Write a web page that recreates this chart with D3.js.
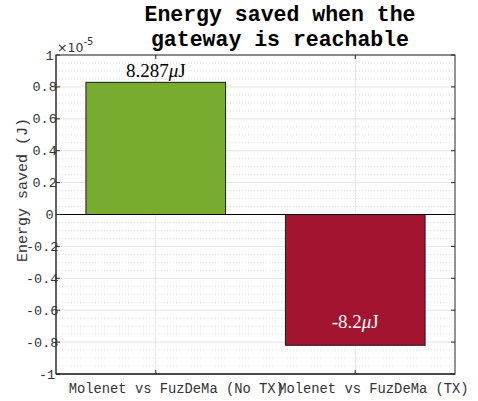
<!DOCTYPE html>
<html><head><meta charset="utf-8">
<script src="https://cdn.jsdelivr.net/npm/d3@7"></script>
<style>body{margin:0;background:#fff}</style>
</head><body>
<svg id="c" width="478" height="401"></svg>
<script>
const categories = ["Molenet vs FuzDeMa (No TX)", "Molenet vs FuzDeMa (TX)"];
const values = [0.8287, -0.82]; // in units of 1e-5 J
const barLabelNums = ["8.287", "-8.2"];
const barLabelUnit = ["\u03BC", "J"];
const barColors = ["#77AC30", "#A2142F"];
const yTicks = [-1, -0.8, -0.6, -0.4, -0.2, 0, 0.2, 0.4, 0.6, 0.8, 1];
const yTickLabels = ["-1", "-0.8", "-0.6", "-0.4", "-0.2", "0", "0.2", "0.4", "0.6", "0.8", "1"];
const titleLines = ["Energy saved when the", "gateway is reachable"];
const yLabel = "Energy saved (J)";

const mono = "'Courier New','Liberation Mono',monospace";
const svg = d3.select("#c");
const L = 56, R = 455, T = 55, B = 374;
const x = d3.scaleLinear().domain([0.5, 2.5]).range([L, R]);
const y = d3.scaleLinear().domain([-1, 1]).range([B, T]);

// minor grid
const minor = d3.range(-1, 1.0001, 0.05).filter(v => Math.abs(Math.round(v * 5) - v * 5) > 1e-6);
svg.append("g").selectAll("line").data(minor).join("line")
  .attr("x1", L).attr("x2", R).attr("y1", d => y(d)).attr("y2", d => y(d))
  .attr("stroke", "#dcdcdc").attr("stroke-width", 1).attr("stroke-dasharray", "1,2");
// major grid
svg.append("g").selectAll("line").data(yTicks).join("line")
  .attr("x1", L).attr("x2", R).attr("y1", d => y(d)).attr("y2", d => y(d))
  .attr("stroke", "#e3e3e3").attr("stroke-width", 1);
svg.append("g").selectAll("line").data([1, 2]).join("line")
  .attr("y1", T).attr("y2", B).attr("x1", d => x(d)).attr("x2", d => x(d))
  .attr("stroke", "#e3e3e3").attr("stroke-width", 1);

// bars
const bw = 0.7;
svg.append("g").selectAll("rect").data(values).join("rect")
  .attr("x", (d, i) => x(i + 1 - bw / 2))
  .attr("width", x(1 + bw / 2) - x(1 - bw / 2))
  .attr("y", d => y(Math.max(0, d)))
  .attr("height", d => Math.abs(y(d) - y(0)))
  .attr("fill", (d, i) => barColors[i])
  .attr("stroke", "#1a1a1a").attr("stroke-width", 1);

// baseline
svg.append("line").attr("x1", L).attr("x2", R).attr("y1", y(0)).attr("y2", y(0))
  .attr("stroke", "#000").attr("stroke-width", 1);

// box
svg.append("rect").attr("x", L).attr("y", T).attr("width", R - L).attr("height", B - T)
  .attr("fill", "none").attr("stroke", "#262626").attr("stroke-width", 1);
svg.append("line").attr("x1", L).attr("x2", L).attr("y1", T).attr("y2", B)
  .attr("stroke", "#555").attr("stroke-width", 1.6);
svg.append("line").attr("x1", L).attr("x2", R).attr("y1", B).attr("y2", B)
  .attr("stroke", "#333").attr("stroke-width", 1.4);

// ticks
const tl = 4;
const tg = svg.append("g").attr("stroke", "#262626").attr("stroke-width", 1);
yTicks.forEach(v => {
  tg.append("line").attr("x1", L).attr("x2", L + tl).attr("y1", y(v)).attr("y2", y(v));
  tg.append("line").attr("x1", R).attr("x2", R - tl).attr("y1", y(v)).attr("y2", y(v));
});
[1, 2].forEach(v => {
  tg.append("line").attr("x1", x(v)).attr("x2", x(v)).attr("y1", B).attr("y2", B - tl);
  tg.append("line").attr("x1", x(v)).attr("x2", x(v)).attr("y1", T).attr("y2", T + tl);
});

// y tick labels
svg.append("g").selectAll("text").data(yTicks).join("text")
  .attr("x", (d, i) => 52 - yTickLabels[i].length * 6.5)
  .attr("y", d => y(d) + 4.5)
  .attr("font-family", mono).attr("font-size", 13.5).attr("fill", "#333")
  .text((d, i) => yTickLabels[i]);

// x tick labels
svg.append("g").selectAll("text").data(categories).join("text")
  .attr("x", (d, i) => x(i + 1) - d.length * 3.35)
  .attr("y", 393)
  .attr("font-family", mono).attr("font-size", 13.8).attr("fill", "#333")
  .text(d => d);

// exponent
const ex = svg.append("text").attr("x", 57).attr("y", 52)
  .attr("font-family", "'DejaVu Sans',sans-serif").attr("font-size", 12.5).attr("fill", "#333");
ex.append("tspan").text("\u00D710");
ex.append("tspan").attr("dy", -7).attr("font-size", 10).text("-5");

// y label
svg.append("text").attr("transform", "translate(27,262) rotate(-90)")
  .attr("font-family", mono).attr("font-size", 15).attr("fill", "#333")
  .text(yLabel);

// title
svg.append("g").selectAll("text").data(titleLines).join("text")
  .attr("x", 280).attr("y", (d, i) => 21 + i * 25)
  .attr("text-anchor", "middle")
  .attr("font-family", mono).attr("font-weight", "bold").attr("font-size", 21.5).attr("fill", "#000")
  .text(d => d);

// bar labels
const bl = svg.append("g").selectAll("text").data(values).join("text")
  .attr("x", (d, i) => x(i + 1))
  .attr("y", d => d >= 0 ? y(d) - 5 : y(d) - 17)
  .attr("text-anchor", "middle")
  .attr("font-family", "'Liberation Serif','DejaVu Serif',serif").attr("font-size", 19)
  .attr("fill", d => d >= 0 ? "#000" : "#fff");
bl.append("tspan").text((d, i) => barLabelNums[i]);
bl.append("tspan").attr("font-style", "italic").text(barLabelUnit[0]);
bl.append("tspan").text(barLabelUnit[1]);
</script>
</body></html>
